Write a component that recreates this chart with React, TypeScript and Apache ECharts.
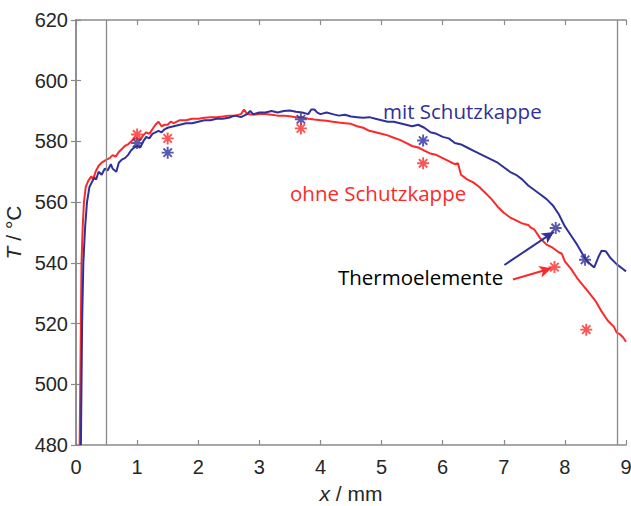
import React, { useEffect, useRef } from "react";
import * as echarts from "echarts";

const xTicks = [0, 1, 2, 3, 4, 5, 6, 7, 8, 9];
const yTicks = [480, 500, 520, 540, 560, 580, 600, 620];

const blueLine: [number, number][] = [
  [0.08, 480], [0.09, 500], [0.1, 520], [0.12, 540], [0.15, 552], [0.18, 560], [0.22, 565], [0.27, 567], [0.3, 568],
  [0.33, 567.5], [0.37, 570], [0.42, 569], [0.47, 571], [0.52, 570.5], [0.57, 572.5], [0.6, 571], [0.66, 570],
  [0.7, 573], [0.75, 574], [0.8, 574.5], [0.85, 575.5], [0.9, 577], [0.95, 578], [1.0, 578.5], [1.05, 578],
  [1.1, 580], [1.15, 581.5], [1.2, 581], [1.25, 582.5], [1.3, 583], [1.35, 583.5], [1.4, 583], [1.45, 584],
  [1.5, 584.5], [1.6, 585], [1.7, 585.5], [1.8, 586], [1.9, 586], [2.0, 586.5], [2.1, 587], [2.2, 587],
  [2.3, 587.5], [2.4, 587.5], [2.5, 587.8], [2.6, 588.5], [2.7, 588], [2.8, 589], [2.85, 590], [2.9, 589],
  [3.0, 589.5], [3.1, 589.5], [3.2, 590], [3.3, 589.5], [3.4, 590], [3.5, 590.2], [3.6, 589.8], [3.7, 589.5],
  [3.8, 589], [3.85, 590.5], [3.9, 590.5], [3.95, 589.5], [4.0, 589], [4.1, 589.5], [4.2, 589], [4.3, 588.5],
  [4.4, 588.8], [4.5, 588.2], [4.6, 588], [4.7, 587.8], [4.8, 588], [4.9, 587.5], [5.0, 587], [5.1, 586.5],
  [5.2, 586.5], [5.3, 586], [5.4, 585.5], [5.5, 585], [5.6, 585.5], [5.7, 584.5], [5.8, 583], [5.9, 582.5],
  [6.0, 581.5], [6.1, 581], [6.2, 579.5], [6.3, 579], [6.4, 578], [6.5, 577], [6.6, 576], [6.7, 575],
  [6.8, 574], [6.9, 573], [7.0, 571.5], [7.1, 570], [7.2, 569], [7.3, 567.5], [7.4, 565.5], [7.5, 564],
  [7.6, 562.5], [7.7, 561], [7.8, 559], [7.9, 556], [8.0, 552], [8.1, 549], [8.2, 546], [8.3, 542.5],
  [8.35, 541], [8.42, 539.5], [8.48, 538.5], [8.55, 542], [8.6, 544], [8.67, 543.8], [8.75, 541.5],
  [8.85, 539.5], [8.95, 538], [9.0, 537.2],
];

const redLine: [number, number][] = [
  [0.06, 480], [0.07, 500], [0.08, 520], [0.09, 540], [0.11, 552], [0.13, 560], [0.16, 565], [0.2, 567],
  [0.25, 568.5], [0.28, 567.5], [0.32, 570], [0.37, 572], [0.42, 573], [0.5, 574], [0.55, 574.5], [0.6, 575.5],
  [0.65, 575], [0.7, 576.5], [0.75, 577.5], [0.8, 578.5], [0.85, 579], [0.9, 580], [0.95, 581], [1.0, 581],
  [1.05, 580.5], [1.1, 582], [1.15, 583], [1.2, 582.5], [1.25, 584], [1.3, 585.5], [1.35, 586.5], [1.4, 585],
  [1.45, 585.5], [1.5, 585.5], [1.55, 586.5], [1.6, 586], [1.7, 587], [1.8, 587], [1.9, 587.5], [2.0, 587.5],
  [2.1, 587.8], [2.2, 588], [2.3, 588], [2.4, 588.2], [2.5, 588.5], [2.6, 588.5], [2.7, 589], [2.75, 590.5],
  [2.8, 589], [2.9, 588.8], [3.0, 589], [3.1, 589], [3.2, 588.8], [3.3, 588.5], [3.4, 588.5], [3.5, 588.3],
  [3.6, 588], [3.7, 588], [3.8, 587.5], [3.9, 587.2], [4.0, 587], [4.1, 586.8], [4.2, 586.5], [4.3, 586.2],
  [4.4, 586], [4.5, 585.8], [4.6, 585], [4.7, 584.5], [4.8, 583.5], [4.9, 583], [5.0, 582.5], [5.1, 582],
  [5.2, 581.2], [5.3, 580.5], [5.4, 579.5], [5.5, 578.5], [5.6, 578], [5.7, 577], [5.8, 576], [5.9, 575.5],
  [6.0, 574.5], [6.1, 573.5], [6.2, 572.5], [6.25, 572.8], [6.3, 569], [6.4, 567.5], [6.5, 566.5], [6.6, 565],
  [6.7, 563], [6.8, 561], [6.9, 558.5], [7.0, 556.5], [7.1, 555], [7.2, 554], [7.3, 553], [7.4, 552.5],
  [7.45, 551.5], [7.5, 551], [7.6, 548], [7.7, 546], [7.8, 545], [7.9, 543.5], [7.95, 543], [8.0, 540.5],
  [8.1, 538], [8.2, 535], [8.3, 532.5], [8.4, 530], [8.5, 527.5], [8.6, 524], [8.7, 521], [8.8, 519],
  [8.85, 517], [8.9, 516.5], [8.95, 515.5], [9.0, 514],
];

const blueThermo: [number, number][] = [
  [1.0, 579.5], [1.5, 576.3], [3.68, 587.3], [5.68, 580.3], [7.85, 551.5], [8.33, 541],
];
const redThermo: [number, number][] = [
  [1.0, 582.3], [1.5, 581], [3.68, 584.3], [5.68, 572.8], [7.83, 538.6], [8.35, 518],
];

const guideX = [0.5, 8.85];

const blueArrow: [number, number][] = [[7.01, 539.3], [7.82, 550.2]];
const redArrow: [number, number][] = [[7.15, 534.5], [7.78, 538.2]];

const BLUE = "#30309a";
const RED = "#fa2a2a";

const asterisk =
  "path://M0 8.4L20 8.4L20 11.6L0 11.6Z M8.4 0L11.6 0L11.6 20L8.4 20Z " +
  "M4.13 1.87L18.13 15.87L15.87 18.13L1.87 4.13Z M15.87 1.87L18.13 4.13L4.13 18.13L1.87 15.87Z";

const FONT = "Liberation Sans, Arial, sans-serif";

export default function App() {
  const ref = useRef<HTMLDivElement>(null);
  useEffect(() => {
    document.body.style.margin = "0";
    if (!ref.current) return;
    const chart = echarts.init(ref.current, undefined, { renderer: "svg" });
    const axisLine = { show: true, lineStyle: { color: "#8a8a8a", width: 1.5 } };
    const axisTick = { show: true, inside: true, length: 5, lineStyle: { color: "#8a8a8a", width: 1.2 } };
    const labelFont = { fontFamily: FONT, fontSize: 20, color: "#262626" };
    const nameStyle = {
      fontFamily: FONT, fontSize: 21, color: "#262626",
      rich: { i: { fontStyle: "italic", fontSize: 21, fontFamily: FONT, color: "#262626" } },
    };
    chart.setOption({
      animation: false,
      backgroundColor: "#ffffff",
      grid: { left: 76, right: 5, top: 20, bottom: 61, containLabel: false, outerBoundsMode: "none" },
      xAxis: [
        {
          type: "value", min: xTicks[0], max: xTicks[xTicks.length - 1], interval: 1,
          axisLine, axisTick, splitLine: { show: false },
          axisLabel: { ...labelFont, margin: 12 },
          name: "{i|x} / mm", nameLocation: "middle", nameGap: 38,
          nameTextStyle: nameStyle,
        },
        {
          type: "value", position: "top", min: xTicks[0], max: xTicks[xTicks.length - 1], interval: 1,
          axisLine, axisTick, axisLabel: { show: false }, splitLine: { show: false },
        },
      ],
      yAxis: [
        {
          type: "value", min: yTicks[0], max: yTicks[yTicks.length - 1], interval: 20,
          axisLine, axisTick, splitLine: { show: false },
          axisLabel: { ...labelFont, margin: 8 },
          name: "{i|T} / °C", nameLocation: "middle", nameGap: 52, nameRotate: 90,
          nameTextStyle: nameStyle,
        },
        {
          type: "value", position: "right", min: yTicks[0], max: yTicks[yTicks.length - 1], interval: 20,
          axisLine, axisTick, axisLabel: { show: false }, splitLine: { show: false },
        },
      ],
      series: [
        {
          type: "line", data: redLine, showSymbol: false, symbol: "none",
          lineStyle: { color: RED, width: 2 }, z: 3,
          markLine: {
            silent: true, symbol: ["none", "none"], label: { show: false },
            lineStyle: { color: "#8a8a8a", width: 1.3, type: "solid" },
            data: guideX.map((v) => ({ xAxis: v })),
          },
        },
        {
          type: "line", data: blueLine, showSymbol: false, symbol: "none",
          lineStyle: { color: BLUE, width: 2 }, z: 4,
        },
        {
          type: "scatter", data: blueThermo, symbol: asterisk, symbolSize: 12,
          itemStyle: { color: BLUE }, z: 5,
          markLine: {
            silent: true, symbol: ["none", "arrow"], symbolSize: [9, 12], label: { show: false },
            lineStyle: { color: BLUE, width: 2, type: "solid" },
            data: [[{ coord: blueArrow[0] }, { coord: blueArrow[1] }]],
          },
        },
        {
          type: "scatter", data: redThermo, symbol: asterisk, symbolSize: 12,
          itemStyle: { color: RED }, z: 5,
          markLine: {
            silent: true, symbol: ["none", "arrow"], symbolSize: [9, 12], label: { show: false },
            lineStyle: { color: RED, width: 2, type: "solid" },
            data: [[{ coord: redArrow[0] }, { coord: redArrow[1] }]],
          },
        },
      ],
      graphic: [
        {
          type: "text", x: 383, y: 111,
          style: { text: "mit Schutzkappe", fill: BLUE, font: "20.5px 'Open Sans', sans-serif", textVerticalAlign: "middle" },
        },
        {
          type: "text", x: 290, y: 193,
          style: { text: "ohne Schutzkappe", fill: RED, font: "20.5px 'Open Sans', sans-serif", textVerticalAlign: "middle" },
        },
        {
          type: "text", x: 338, y: 277,
          style: { text: "Thermoelemente", fill: "#000000", font: "20.5px 'Open Sans', sans-serif", textVerticalAlign: "middle" },
        },
      ],
    });
    return () => chart.dispose();
  }, []);
  return <div ref={ref} style={{ width: 631, height: 506 }} />;
}
